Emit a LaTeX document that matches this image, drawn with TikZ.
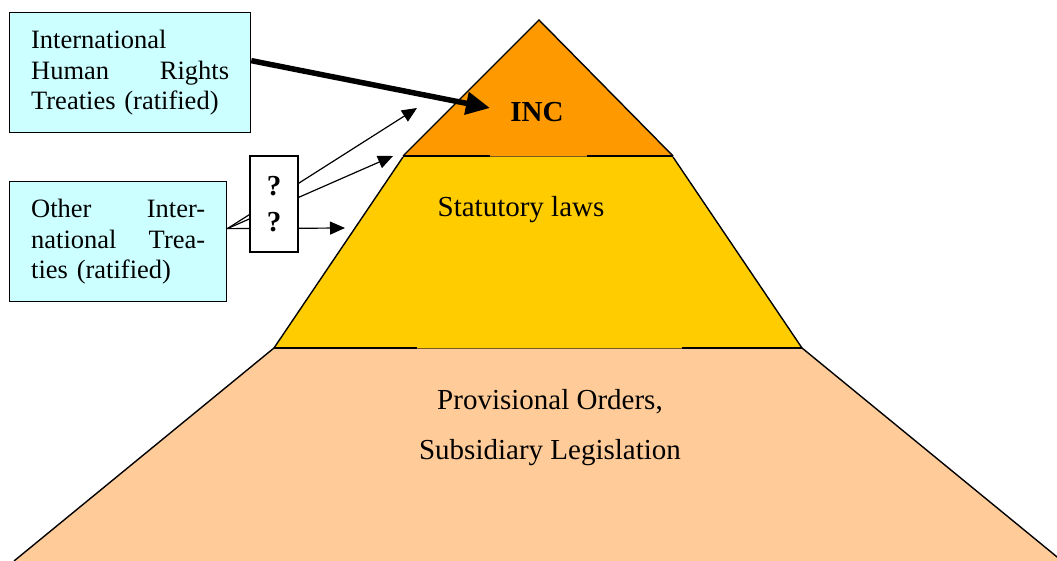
\documentclass[tikz,border=0pt]{standalone}
\usepackage{fontspec}
\setmainfont{Liberation Serif}
\usetikzlibrary{arrows.meta}
\setlength{\parindent}{0pt}
\definecolor{incorange}{HTML}{FF9900}
\definecolor{statyellow}{HTML}{FFCC00}
\definecolor{provpeach}{HTML}{FFCC99}
\definecolor{treatycyan}{HTML}{CCFFFF}
\definecolor{seamline}{HTML}{7A5A20}
\begin{document}
\begin{tikzpicture}[x=1pt,y=-1pt,
  edge/.style={line width=1.4pt},
  seam/.style={line width=0.6pt, draw=seamline},
  treaty/.style={draw, line width=1.3pt, fill=treatycyan, inner sep=0pt,
    align=left, font=\fontsize{26.5}{30.5}\selectfont, anchor=north west},
  level/.style={font=\fontsize{29}{35}\selectfont, anchor=base, inner sep=0pt},
  thinarrow/.style={line width=1.2pt, -{Triangle[length=15pt,width=13pt]}},
  boldarrow/.style={line width=5.5pt, -{Triangle[length=24pt,width=22pt]}}]
\useasboundingbox (0,0) rectangle (1057,561);
\clip (0,0) rectangle (1057,561);

% bottom layer
\fill[provpeach] (274,348) -- (802,348) -- (1062,561) -- (14,561) -- cycle;
\draw[edge] (274,348) -- (14,561);
\draw[edge] (802,348) -- (1062,561);

% middle layer
\fill[statyellow] (403,157) -- (673,157) -- (802,348) -- (274,348) -- cycle;
\draw[edge] (403,157) -- (274,348);
\draw[edge] (673,157) -- (802,348);
\draw[edge] (274,348) -- (417,348);
\draw[edge] (682,348) -- (802,348);
\draw[seam] (417,348) -- (682,348);

% top layer
\fill[incorange] (539,20) -- (673,156) -- (403,156) -- cycle;
\draw[edge] (403,156) -- (539,20) -- (673,156);
\draw[edge] (403,156) -- (490,156);
\draw[edge] (587,156) -- (673,156);
\draw[seam] (490,156) -- (587,156);

% level labels
\node[level, font=\bfseries\fontsize{29}{35}\selectfont] (inc) at (537,122) {INC};
\node[level] (statutory) at (521,217) {Statutory laws};
\node[level] (provisional) at (550,409) {Provisional Orders,};
\node[level] (subsidiary) at (550,459) {Subsidiary Legislation};

% treaty boxes
\node[treaty, minimum width=241pt, minimum height=120pt, text width=198pt]
  (hr) at (9,12) {International\\Human\hfill Rights\\Treaties (ratified)};
\node[treaty, minimum width=217pt, minimum height=120pt, text width=174pt]
  (other) at (9,181) {Other\hfill Inter-\\national\hfill Trea-\\ties (ratified)};

% arrows
\coordinate (inctip) at (490,108);
\coordinate (uppertip) at (417,108);
\coordinate (seamtip) at (393,156);
\coordinate (statip) at (345,228);
\draw[boldarrow] ([yshift=12pt]hr.east) -- (inctip);
\draw[thinarrow] ([yshift=13pt]other.east) -- (uppertip);
\draw[thinarrow] ([yshift=13pt]other.east) -- (seamtip);
\draw[thinarrow] ([yshift=13pt]other.east) -- (statip);

% uncertainty box over the arrows
\node[draw, line width=1.3pt, fill=white, minimum width=48pt, minimum height=96pt,
  inner sep=0pt, align=center, font=\bfseries\fontsize{29}{36}\selectfont]
  (q) at (274,204) {?\\?};
\end{tikzpicture}
\end{document}
